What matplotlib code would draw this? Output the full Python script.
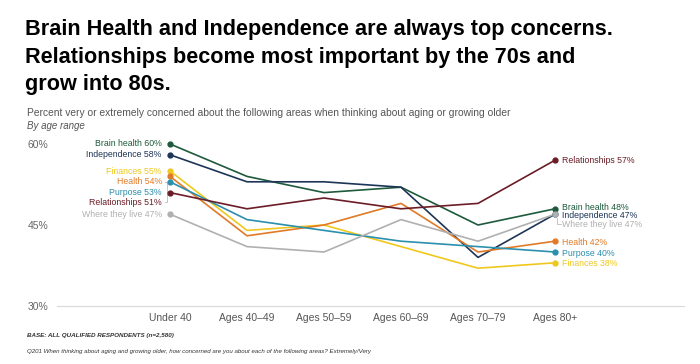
import matplotlib.pyplot as plt

plt.rcParams["font.family"] = ["Liberation Sans", "DejaVu Sans"]

ages = ["Under 40", "Ages 40\u201349", "Ages 50\u201359", "Ages 60\u201369", "Ages 70\u201379", "Ages 80+"]
series = ["Brain health", "Independence", "Finances", "Health", "Purpose", "Relationships", "Where they live"]
brain_health = [60, 54, 51, 52, 45, 48]
independence = [58, 53, 53, 52, 39, 47]
finances = [55, 44, 45, 41, 37, 38]
health = [54, 43, 45, 49, 40, 42]
purpose = [53, 46, 44, 42, 41, 40]
relationships = [51, 48, 50, 48, 49, 57]
where_they_live = [47, 41, 40, 46, 42, 47]
values = [brain_health, independence, finances, health, purpose, relationships, where_they_live]
colors = ["#1e5a3c", "#1d3557", "#efc81e", "#e07a26", "#2b8fae", "#6a1d27", "#b0b0b0"]

# label heights (data units) to keep labels from overlapping
left_label_y = [60, 58, 55, 53.1, 51.1, 49.2, 47]
right_label_y = [48.2, 46.8, 37.8, 41.8, 39.8, 56.9, 45.1]

W, H = 700, 364
fig = plt.figure(figsize=(W / 100, H / 100), dpi=100)

x0, x1 = 57, 684
y_top, y_bot = 144, 306
ax = fig.add_axes([x0 / W, 1 - y_bot / H, (x1 - x0) / W, (y_bot - y_top) / H])
px = 77.0
ax.set_xlim((x0 - 170) / px, (x1 - 170) / px)
ax.set_ylim(30, 60)
for s in ax.spines.values():
    s.set_visible(False)
ax.axhline(30, color="#d9d9d9", lw=0.8, clip_on=False)
ax.set_yticks([30, 45, 60])
ax.set_yticklabels(["30%", "45%", "60%"])
ax.tick_params(axis="y", length=0, colors="#666666", labelsize=7.5, pad=0)
for lab in ax.get_yticklabels():
    lab.set_horizontalalignment("left")
    lab.set_x(-(x0 - 28) / (x1 - x0))
ax.set_xticks(range(len(ages)))
ax.set_xticklabels(ages)
ax.tick_params(axis="x", length=0, colors="#555555", labelsize=7.5, pad=5)

xs = list(range(len(ages)))
for name, vals, col, ly, ry in zip(series, values, colors, left_label_y, right_label_y):
    ax.plot(xs, vals, color=col, lw=1.2, clip_on=False, zorder=2)
    ax.plot([xs[0], xs[-1]], [vals[0], vals[-1]], "o", color=col, ms=3.5, clip_on=False, zorder=3)
    ax.annotate(f"{name} {vals[0]}%", (xs[0], ly), xytext=(-6, 0), textcoords="offset points",
                ha="right", va="center", fontsize=6.3, color=col)
    ax.annotate(f"{name} {vals[-1]}%", (xs[-1], ry), xytext=(5, 0), textcoords="offset points",
                ha="left", va="center", fontsize=6.3, color=col)

# small leader lines
ax.plot([-0.06, -0.04, -0.04, -0.06], [53, 53, 49.2, 49.2], color="#bbbbbb", lw=0.6, clip_on=False)
ax.plot([5.03, 5.03, 5.08], [46.3, 45.1, 45.1], color="#bbbbbb", lw=0.6, clip_on=False)

title = ("Brain Health and Independence are always top concerns.\n"
         "Relationships become most important by the 70s and\n"
         "grow into 80s.")
fig.text(25 / W, 1 - 19 / H, title, ha="left", va="top", fontsize=15.6, fontweight="bold",
         color="#000000", linespacing=1.42)
fig.text(27 / W, 1 - 113 / H, "Percent very or extremely concerned about the following areas when thinking about aging or growing older",
         ha="left", va="center", fontsize=7.4, color="#555555")
fig.text(27 / W, 1 - 126 / H, "By age range", ha="left", va="center", fontsize=7, style="italic", color="#555555")
fig.text(27 / W, 1 - 336 / H, "BASE: ALL QUALIFIED RESPONDENTS (n=2,580)", ha="left", va="center",
         fontsize=4.5, fontweight="bold", style="italic", color="#333333")
fig.text(27 / W, 1 - 351 / H, "Q201 When thinking about aging and growing older, how concerned are you about each of the following areas? Extremely/Very",
         ha="left", va="center", fontsize=4.4, style="italic", color="#333333")

fig.savefig("out.png", dpi=100)
